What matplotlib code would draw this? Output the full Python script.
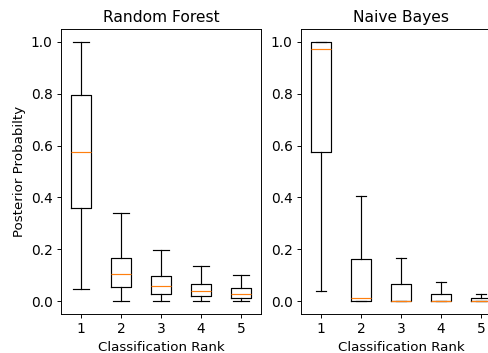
#!/usr/bin/env python3
"""Posterior probability by classification rank: Random Forest vs Naive Bayes."""

import matplotlib
matplotlib.use("Agg")
import matplotlib.pyplot as plt

RANKS = [1, 2, 3, 4, 5]

# Random Forest box stats
rf_whislo = [0.045, 0.0, 0.0, 0.0, 0.0]
rf_q1 = [0.358, 0.054, 0.028, 0.018, 0.013]
rf_med = [0.574, 0.106, 0.059, 0.039, 0.027]
rf_q3 = [0.794, 0.168, 0.095, 0.066, 0.049]
rf_whishi = [1.0, 0.341, 0.197, 0.135, 0.100]

# Naive Bayes box stats
nb_whislo = [0.039, 0.0, 0.0, 0.0, 0.0]
nb_q1 = [0.576, 0.0, 0.0, 0.0, 0.0]
nb_med = [0.974, 0.010, 0.0, 0.0, 0.0]
nb_q3 = [1.0, 0.162, 0.066, 0.028, 0.012]
nb_whishi = [1.0, 0.404, 0.165, 0.072, 0.026]


def make_stats(lo, q1, med, q3, hi):
    return [dict(whislo=a, q1=b, med=c, q3=d, whishi=e, fliers=[], label=str(r))
            for r, a, b, c, d, e in zip(RANKS, lo, q1, med, q3, hi)]


# original looks like a ~85 dpi render, so pads/lines are scaled by 0.85
S = 0.85
plt.rcParams["axes.linewidth"] = 0.8 * S
plt.rcParams["xtick.major.width"] = 0.8 * S
plt.rcParams["ytick.major.width"] = 0.8 * S

fig = plt.figure(figsize=(4.89, 3.53), dpi=100)
ax1 = fig.add_axes([0.1247, 0.1105, 0.409, 0.8073])
ax2 = fig.add_axes([0.6155, 0.1105, 0.409, 0.8073])

lw = 1.0 * S
props = dict(boxprops=dict(linewidth=lw), whiskerprops=dict(linewidth=lw),
             capprops=dict(linewidth=lw), medianprops=dict(linewidth=lw, color="#ff7f0e"))

ax1.bxp(make_stats(rf_whislo, rf_q1, rf_med, rf_q3, rf_whishi),
        positions=RANKS, widths=0.5, capwidths=0.4, showfliers=False, **props)
ax2.bxp(make_stats(nb_whislo, nb_q1, nb_med, nb_q3, nb_whishi),
        positions=RANKS, widths=0.5, capwidths=0.25, showfliers=False, **props)

for ax, title in [(ax1, "Random Forest"), (ax2, "Naive Bayes")]:
    ax.set_title(title, fontsize=11.2, pad=6 * S)
    ax.set_xlabel("Classification Rank", fontsize=9.6, labelpad=4 * S)
    ax.set_xlim(0.5, 5.5)
    ax.set_ylim(-0.05, 1.05)
    ax.set_yticks([0.0, 0.2, 0.4, 0.6, 0.8, 1.0])
    ax.tick_params(labelsize=9.9, length=3.5 * S, pad=3.5 * S)

ax1.set_ylabel("Posterior Probabilty", fontsize=9.6, labelpad=4 * S)

fig.savefig("out.png", dpi=100)
